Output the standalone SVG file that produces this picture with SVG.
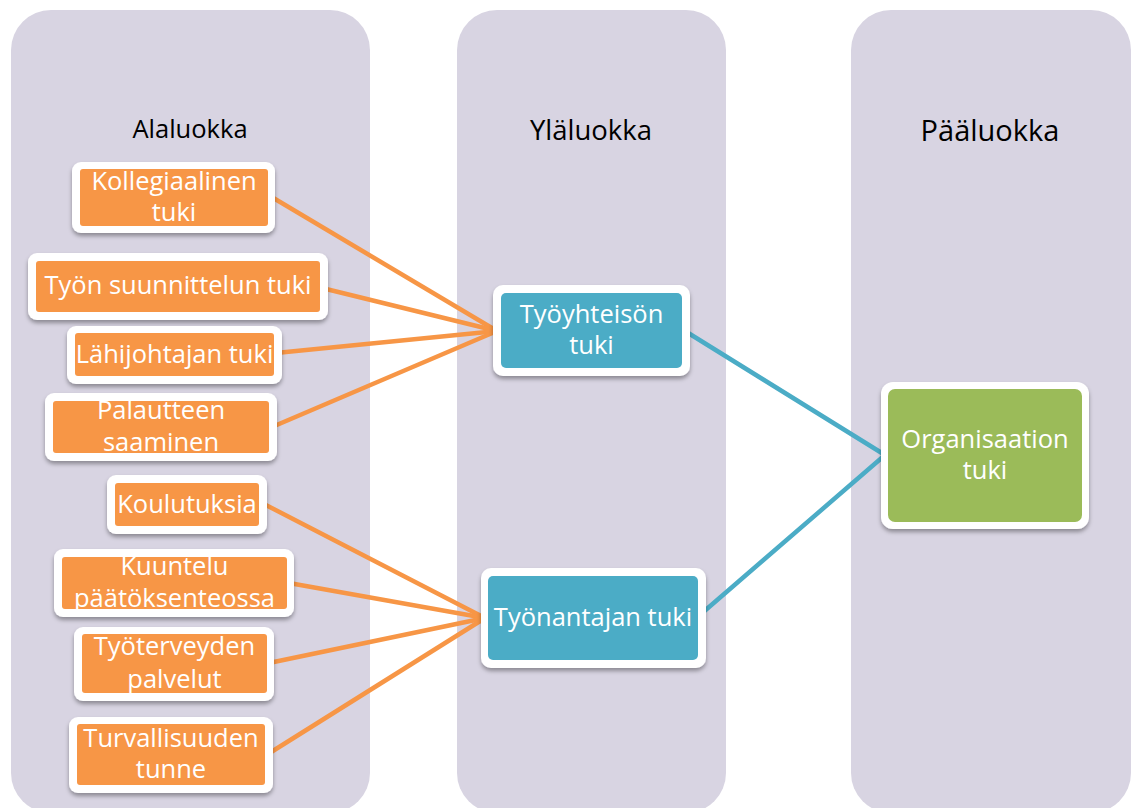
<svg xmlns="http://www.w3.org/2000/svg" width="1133" height="808" viewBox="0 0 1133 808">
  <defs>
    <filter id="shadow" x="-10%" y="-10%" width="120%" height="130%">
      <feDropShadow dx="0" dy="3" stdDeviation="2" flood-color="#000" flood-opacity="0.35"/>
    </filter>
    <style>
      .col { fill: #D8D4E2; }
      .frame { fill: #FFFFFF; filter: url(#shadow); }
      .orange { fill: #F79646; }
      .blue { fill: #4BACC6; }
      .green { fill: #9BBB59; }
      .label { font-family: "Open Sans", "Liberation Sans", sans-serif; font-size: 25.5px; fill: #FFFFFF; text-anchor: middle; }
      .head { font-family: "Open Sans", "Liberation Sans", sans-serif; fill: #000000; text-anchor: middle; }
      .c-or { stroke: #F79646; stroke-width: 4.5; fill: none; stroke-linecap: round; }
      .c-bl { stroke: #4BACC6; stroke-width: 4.5; fill: none; stroke-linecap: round; }
    </style>
  </defs>

  <rect width="1133" height="808" fill="#FFFFFF"/>

  <!-- column panels -->
  <g id="columns">
    <rect class="col" x="11" y="10" width="359" height="803" rx="40"/>
    <rect class="col" x="457" y="10" width="269" height="803" rx="40"/>
    <rect class="col" x="851" y="10" width="280" height="803" rx="40"/>
    <text class="head" x="190" y="138" font-size="25.5">Alaluokka</text>
    <text class="head" x="591" y="140" font-size="27.5">Yläluokka</text>
    <text class="head" x="990" y="141" font-size="29">Pääluokka</text>
  </g>

  <!-- connectors -->
  <g id="connectors">
    <line class="c-or" x1="270" y1="196" x2="497" y2="331"/>
    <line class="c-or" x1="322" y1="288" x2="497" y2="331"/>
    <line class="c-or" x1="276" y1="353" x2="497" y2="331"/>
    <line class="c-or" x1="272" y1="427" x2="497" y2="331"/>
    <line class="c-or" x1="262" y1="503" x2="485" y2="618"/>
    <line class="c-or" x1="289" y1="583" x2="485" y2="618"/>
    <line class="c-or" x1="269" y1="663" x2="485" y2="618"/>
    <line class="c-or" x1="268" y1="754" x2="485" y2="618"/>
    <line class="c-bl" x1="685" y1="331" x2="885" y2="455"/>
    <line class="c-bl" x1="701" y1="614" x2="885" y2="455"/>
  </g>

  <!-- sub-category nodes -->
  <g id="n-kollegiaalinen">
    <rect class="frame" x="72" y="162" width="203" height="71" rx="9"/>
    <rect class="orange" x="80" y="169" width="188" height="57" rx="3"/>
    <text class="label" x="174" y="190">Kollegiaalinen</text>
    <text class="label" x="174" y="221">tuki</text>
  </g>
  <g id="n-tyon-suunnittelu">
    <rect class="frame" x="28" y="253" width="300" height="67" rx="9"/>
    <rect class="orange" x="36" y="261" width="284" height="51" rx="3"/>
    <text class="label" x="178" y="294">Työn suunnittelun tuki</text>
  </g>
  <g id="n-lahijohtaja">
    <rect class="frame" x="67" y="326" width="215" height="58" rx="9"/>
    <rect class="orange" x="75" y="333" width="199" height="43" rx="3"/>
    <text class="label" x="174.5" y="363">Lähijohtajan tuki</text>
  </g>
  <g id="n-palaute">
    <rect class="frame" x="45" y="393" width="232" height="68" rx="9"/>
    <rect class="orange" x="53" y="401" width="216" height="52" rx="3"/>
    <text class="label" x="161" y="419">Palautteen</text>
    <text class="label" x="161" y="451">saaminen</text>
  </g>
  <g id="n-koulutuksia">
    <rect class="frame" x="107" y="475" width="160" height="59" rx="9"/>
    <rect class="orange" x="115" y="483" width="144" height="43" rx="3"/>
    <text class="label" x="187" y="513">Koulutuksia</text>
  </g>
  <g id="n-kuuntelu">
    <rect class="frame" x="54" y="549" width="240" height="68" rx="9"/>
    <rect class="orange" x="62" y="557" width="225" height="52" rx="3"/>
    <text class="label" x="174.5" y="575">Kuuntelu</text>
    <text class="label" x="174.5" y="607">päätöksenteossa</text>
  </g>
  <g id="n-tyoterveys">
    <rect class="frame" x="74" y="627" width="200" height="74" rx="9"/>
    <rect class="orange" x="82" y="634" width="185" height="59" rx="3"/>
    <text class="label" x="174.5" y="655">Työterveyden</text>
    <text class="label" x="174.5" y="688">palvelut</text>
  </g>
  <g id="n-turvallisuus">
    <rect class="frame" x="69" y="717" width="204" height="76" rx="9"/>
    <rect class="orange" x="77" y="724" width="188" height="61" rx="3"/>
    <text class="label" x="171" y="747">Turvallisuuden</text>
    <text class="label" x="171" y="778">tunne</text>
  </g>

  <!-- upper-category nodes -->
  <g id="n-tyoyhteiso">
    <rect class="frame" x="493" y="285" width="197" height="91" rx="10"/>
    <rect class="blue" x="501" y="293" width="181" height="75" rx="5"/>
    <text class="label" x="591.5" y="323">Työyhteisön</text>
    <text class="label" x="591.5" y="354">tuki</text>
  </g>
  <g id="n-tyonantaja">
    <rect class="frame" x="481" y="568" width="225" height="100" rx="10"/>
    <rect class="blue" x="488" y="576" width="210" height="84" rx="5"/>
    <text class="label" x="593" y="626">Työnantajan tuki</text>
  </g>

  <!-- main category node -->
  <g id="n-organisaatio">
    <rect class="frame" x="881" y="382" width="208" height="147" rx="12"/>
    <rect class="green" x="888" y="389" width="194" height="133" rx="7"/>
    <text class="label" x="985" y="448">Organisaation</text>
    <text class="label" x="985" y="479">tuki</text>
  </g>
</svg>
